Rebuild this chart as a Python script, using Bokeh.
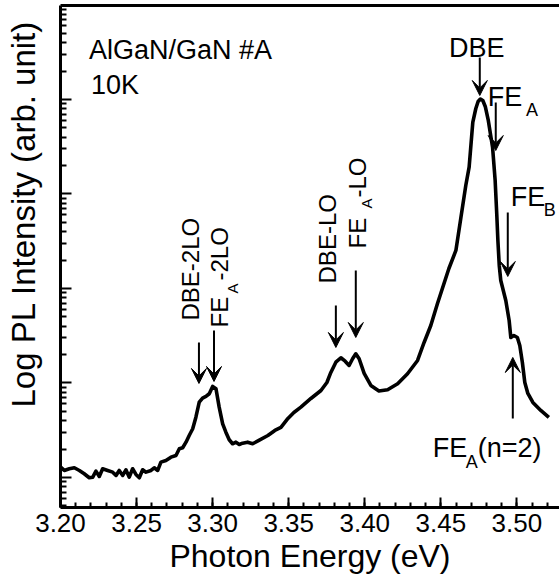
from bokeh.plotting import figure
from bokeh.models import (Range1d, LinearAxis, FixedTicker, Label, Arrow, VeeHead,
                          Title, NumeralTickFormatter)
from bokeh.embed import file_html
from bokeh.resources import INLINE
import math

# ---- data ----
energy = [3.2003, 3.2025, 3.2058, 3.2091, 3.2124, 3.2156, 3.2189, 3.2212, 3.2233, 3.2255,
          3.2277, 3.2310, 3.2343, 3.2365, 3.2386, 3.2409, 3.2430, 3.2452, 3.2474, 3.2496,
          3.2518, 3.2540, 3.2562, 3.2595, 3.2616, 3.2639, 3.2660, 3.2693, 3.2726, 3.2759,
          3.2781, 3.2803, 3.2825, 3.2846, 3.2869, 3.2890, 3.2912, 3.2934, 3.2956, 3.2978,
          3.3000, 3.3022, 3.3043, 3.3066, 3.3087, 3.3109, 3.3131, 3.3153, 3.3175, 3.3197,
          3.3230, 3.3263, 3.3304, 3.3363, 3.3409, 3.3449, 3.3495, 3.3534, 3.3580, 3.3646,
          3.3712, 3.3751, 3.3777, 3.3810, 3.3843, 3.3871, 3.3897, 3.3920, 3.3941, 3.3963,
          3.3996, 3.4040, 3.4093, 3.4150, 3.4216, 3.4281, 3.4347, 3.4390, 3.4434, 3.4478,
          3.4553, 3.4599, 3.4631, 3.4664, 3.4686, 3.4710, 3.4730, 3.4745, 3.4760, 3.4776,
          3.4792, 3.4812, 3.4840, 3.4857, 3.4868, 3.4875, 3.4884, 3.4894, 3.4927, 3.4949,
          3.4960, 3.4980, 3.5003, 3.5019, 3.5036, 3.5052, 3.5072, 3.5105, 3.5157, 3.5210]
intensity = [1.276, 1.186, 1.236, 1.267, 1.186, 1.094, 0.993, 1.007, 1.166, 1.025,
             1.236, 1.186, 1.138, 1.050, 1.186, 1.050, 1.206, 1.007, 1.236, 1.076,
             0.993, 1.206, 1.138, 1.186, 1.267, 1.186, 1.452, 1.513, 1.640, 1.709,
             2.012, 2.062, 2.363, 2.783, 3.276, 4.346, 6.264, 6.906, 7.197, 7.687,
             9.185, 8.682, 5.546, 3.700, 3.016, 2.506, 2.273, 2.363, 2.235, 2.307,
             2.363, 2.273, 2.464, 2.783, 3.144, 3.382, 4.211, 4.873, 5.546, 6.855,
             8.329, 10.12, 12.92, 16.60, 18.48, 17.01, 15.32, 18.04, 20.37, 18.04,
             12.61, 9.409, 8.229, 8.473, 9.806, 12.52, 17.30, 26.83, 40.59, 69.38,
             162.8, 252.5, 550.7, 1230.0, 1921.0, 5710.0, 8030.0, 9524.0, 10120.0, 9759.0,
             8432.0, 5995.0, 3128.0, 1390.0, 592.3, 322.1, 175.2, 121.5, 74.65, 45.85,
             30.30, 31.81, 30.30, 24.94, 16.48, 10.12, 7.743, 6.219, 5.117, 4.315]

x_ticks = [3.20, 3.25, 3.30, 3.35, 3.40, 3.45, 3.50]
y_decades = [1e-1, 1e0, 1e1, 1e2, 1e3, 1e4, 1e5]

FONT = "Liberation Sans"
Y_TOP = 10 ** ((477 - 5) / 94.5)

p = figure(width=559, height=584, y_axis_type="log",
           x_range=Range1d(3.20, 3.528), y_range=Range1d(0.481, Y_TOP),
           output_backend="svg", toolbar_location=None,
           min_border_left=60, min_border_right=0, min_border_top=5, min_border_bottom=77)
p.outline_line_color = None
p.grid.visible = False
p.background_fill_color = "white"
p.border_fill_color = "white"

p.line(energy, intensity, line_width=3.6, color="black", line_join="round")

# x axis
xminor = [round(3.20 + 0.01 * i, 2) for i in range(0, 34)]
xa = p.xaxis[0]
xa.ticker = FixedTicker(ticks=x_ticks, minor_ticks=xminor)
xa.formatter = NumeralTickFormatter(format="0.00")
xa.axis_line_width = 3
xa.axis_line_color = "black"
xa.major_tick_line_color = "black"
xa.minor_tick_line_color = "black"
xa.major_tick_in = 10
xa.major_tick_out = 0
xa.minor_tick_in = 5
xa.minor_tick_out = 0
xa.major_tick_line_width = 2
xa.minor_tick_line_width = 2
xa.major_label_text_font = FONT
xa.major_label_text_font_size = "26px"
xa.major_label_text_color = "black"
xa.major_label_standoff = 6
xa.axis_label = "Photon Energy (eV)"
xa.axis_label_text_font = FONT
xa.axis_label_text_font_size = "32px"
xa.axis_label_text_font_style = "normal"
xa.axis_label_text_color = "black"
xa.axis_label_standoff = 3

# y axis
yminor = [k * d for d in y_decades for k in range(2, 10)]
ya = p.yaxis[0]
ya.ticker = FixedTicker(ticks=y_decades, minor_ticks=yminor)
ya.axis_line_width = 3
ya.axis_line_color = "black"
ya.major_tick_line_color = "black"
ya.minor_tick_line_color = "black"
ya.major_tick_in = 11
ya.major_tick_out = 0
ya.minor_tick_in = 6
ya.minor_tick_out = 0
ya.major_tick_line_width = 2
ya.minor_tick_line_width = 2
ya.major_label_text_font_size = "1px"
ya.major_label_text_color = None
ya.major_label_standoff = 0
# blank spacer label to keep the title clear of the axis
ya.axis_label = " "
ya.axis_label_text_font_size = "10px"
ya.axis_label_standoff = 4

# top border
top = LinearAxis(ticker=FixedTicker(ticks=x_ticks), axis_line_width=3, axis_line_color="black",
                 major_tick_in=0, major_tick_out=0, minor_tick_in=0, minor_tick_out=0,
                 major_label_standoff=0, major_label_text_font_size="1px",
                 major_label_text_color=None)
p.add_layout(top, "above")

p.add_layout(Title(text="Log PL Intensity (arb. unit)", align="right", offset=15,
                   text_font=FONT, text_font_size="33px", text_font_style="normal",
                   text_color="black", standoff=2), "left")

R = math.pi / 2

def lab(x, y, t, size="27px", angle=0.0):
    p.add_layout(Label(x=x, y=y, text=t, text_font=FONT, text_font_size=size,
                       angle=angle, text_align="left", text_baseline="alphabetic",
                       text_color="black"))

lab(3.2187, 33000, "AlGaN/GaN #A")
lab(3.2200, 14070, "10K")
lab(3.4553, 35500, "DBE")
lab(3.4809, 10500, "FE")
lab(3.5059, 7648, "A", "18px")
lab(3.4960, 918, "FE")
lab(3.5177, 669, "B", "18px")
lab(3.4447, 2.027, "FE")
lab(3.4664, 1.441, "A", "18px")
lab(3.4743, 2.027, "(n=2)")
lab(3.2857, 45.85, "DBE-2LO", "24px", R)
lab(3.3044, 38.67, "FE", "24px", R)
lab(3.3133, 88.5, "A", "15px", R)
lab(3.3044, 121.5, "-2LO", "24px", R)
lab(3.3757, 113.0, "DBE-LO", "24px", R)
lab(3.3954, 265.0, "FE", "24px", R)
lab(3.4013, 702.5, "A", "15px", R)
lab(3.3954, 918.0, "-LO", "24px", R)

def arr(x, y0, y1):
    p.add_layout(Arrow(x_start=x, y_start=y0, x_end=x, y_end=y1, line_width=2,
                       line_color="black",
                       end=VeeHead(size=15, fill_color="black", line_color="black",
                                   line_width=1)))

arr(3.4756, 27830, 11030)
arr(3.4861, 9296, 2886)
arr(3.4940, 637.3, 134.0)
arr(3.2910, 26.83, 9.879)
arr(3.3009, 35.94, 10.37)
arr(3.3810, 66.09, 23.75)
arr(3.3941, 155.1, 30.30)
arr(3.4973, 4.211, 18.62)

open("out.html", "w").write(file_html(p, INLINE))
